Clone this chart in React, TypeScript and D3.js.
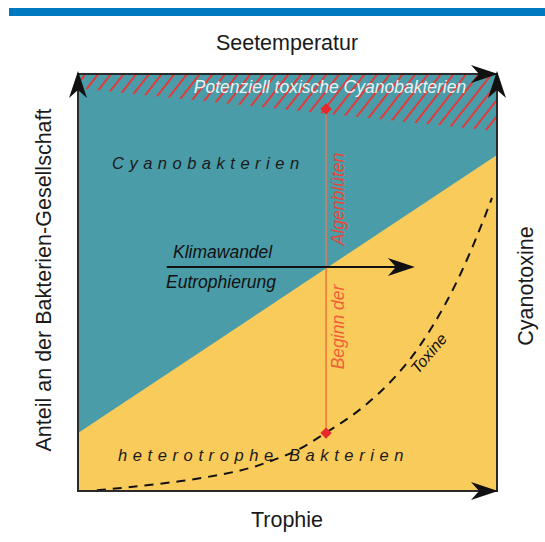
import * as d3 from 'd3';

// share of cyanobacteria boundary (left, right), in 0..1 of y
const splitShare = [0.139, 0.806];
// lower edge of the "potentially toxic" hatched band
const toxicEdge = [0.966, 0.863];
// toxin curve [trophie, level]
const toxinCurve: [number, number][] = [
  [0.045, 0.002], [0.081, 0.005], [0.248, 0.022], [0.403, 0.05], [0.465, 0.074],
  [0.53, 0.098], [0.589, 0.139], [0.649, 0.175], [0.716, 0.23], [0.785, 0.302],
  [0.847, 0.393], [0.905, 0.499], [0.959, 0.626], [0.988, 0.703],
];
const bloomX = 0.592;
const bloomRange = [0.139, 0.916];
const driverArrow = { from: 0.212, to: 0.804, at: 0.537 };

const W = 545, H = 542;
const box = { left: 78, right: 497, top: 74, bottom: 491 };
const teal = '#4a9ca8';
const yellow = '#f9cb5b';
const font = 'Liberation Sans, Arial, sans-serif';

const Head = ({ x, y, angle }: { x: number; y: number; angle: number }) => (
  <path d="M0,0 L-27,-9 L-19,0 L-27,9 Z" fill="#111" transform={`translate(${x},${y}) rotate(${angle})`} />
);

export default function App() {
  const x = d3.scaleLinear().domain([0, 1]).range([box.left, box.right]);
  const y = d3.scaleLinear().domain([0, 1]).range([box.bottom, box.top]);

  const tealPoly = [[0, 1], [1, 1], [1, splitShare[1]], [0, splitShare[0]]]
    .map(([a, b]) => `${x(a)},${y(b)}`).join(' ');
  const hatchPoly = [[0, 1], [1, 1], [1, toxicEdge[1]], [0, toxicEdge[0]]]
    .map(([a, b]) => `${x(a)},${y(b)}`).join(' ');

  const toxLine = d3.line<[number, number]>()
    .x((d) => x(d[0]))
    .y((d) => y(d[1]))
    .curve(d3.curveBasis);

  const bx = x(bloomX);
  const splitAtBloom = splitShare[0] + (splitShare[1] - splitShare[0]) * bloomX;
  const diamond = (cx: number, cy: number) => (
    <rect x={cx - 4} y={cy - 4} width={8} height={8} fill="#e8282a" transform={`rotate(45 ${cx} ${cy})`} />
  );

  return (
    <svg width={W} height={H} style={{ position: 'absolute', left: 0, top: 0, background: '#fff' }} fontFamily={font}>
      <defs>
        <pattern id="hatch" width={10} height={10} patternUnits="userSpaceOnUse" patternTransform="rotate(38)">
          <line x1={3} y1={0} x2={3} y2={10} stroke="#e23a3a" strokeWidth={2} />
        </pattern>
      </defs>
      <rect x={9} y={8} width={536} height={8} fill="#0079c1" />

      <rect x={box.left} y={box.top} width={box.right - box.left} height={box.bottom - box.top} fill={yellow} />
      <polygon points={tealPoly} fill={teal} />
      <polygon points={hatchPoly} fill="url(#hatch)" />

      {/* bloom onset line */}
      <line x1={bx} x2={bx} y1={y(bloomRange[0])} y2={y(splitAtBloom)} stroke="#f27a3a" strokeWidth={1.6} />
      <line x1={bx} x2={bx} y1={y(splitAtBloom)} y2={y(bloomRange[1])} stroke="#cc8068" strokeWidth={1.6} />

      <path d={toxLine(toxinCurve) ?? ''} fill="none" stroke="#111" strokeWidth={2} strokeDasharray="9,7" />

      {diamond(bx, y(bloomRange[0]))}
      {diamond(bx, y(bloomRange[1]))}

      {/* driver arrow */}
      <line x1={x(driverArrow.from)} x2={x(driverArrow.to) - 15} y1={y(driverArrow.at)} y2={y(driverArrow.at)} stroke="#111" strokeWidth={2} />
      <Head x={x(driverArrow.to)} y={y(driverArrow.at)} angle={0} />

      {/* frame */}
      <rect x={box.left} y={box.top} width={box.right - box.left} height={box.bottom - box.top} fill="none" stroke="#2a2a2a" strokeWidth={2} />
      <Head x={box.left} y={box.top - 3} angle={-90} />
      <Head x={box.right} y={box.top - 3} angle={-90} />
      <Head x={box.right + 1} y={box.top} angle={0} />
      <Head x={box.right + 1} y={box.bottom} angle={0} />

      {/* labels */}
      <text x={287} y={50} textAnchor="middle" fontSize={21.5} fill="#1a1a1a">Seetemperatur</text>
      <text x={287} y={527} textAnchor="middle" fontSize={21.5} fill="#1a1a1a">Trophie</text>
      <text transform="translate(51,280) rotate(-90)" textAnchor="middle" fontSize={21.5} fill="#1a1a1a">Anteil an der Bakterien-Gesellschaft</text>
      <text transform="translate(533,286) rotate(-90)" textAnchor="middle" fontSize={21.5} fill="#1a1a1a">Cyanotoxine</text>

      <text x={330} y={93} textAnchor="middle" fontSize={17.5} fontStyle="italic" fill="#fff" fillOpacity={0.9}>Potenziell toxische Cyanobakterien</text>
      <text x={112} y={169} fontSize={16.5} fontStyle="italic" letterSpacing={5.5} fill="#1a1a1a">Cyanobakterien</text>
      <text x={118} y={461} fontSize={16.5} fontStyle="italic" letterSpacing={5.6} fill="#1a1a1a">heterotrophe  Bakterien</text>
      <text x={173} y={258} fontSize={17.5} fontStyle="italic" fill="#111">Klimawandel</text>
      <text x={166} y={288} fontSize={17.5} fontStyle="italic" fill="#111">Eutrophierung</text>

      <text transform="translate(344,199) rotate(-90)" textAnchor="middle" fontSize={17.5} fontStyle="italic" fill="#e8463a">Algenblüten</text>
      <text transform="translate(344,327) rotate(-90)" textAnchor="middle" fontSize={17.5} fontStyle="italic" fill="#f0603a">Beginn der</text>
      <text transform="translate(433,357) rotate(-50)" textAnchor="middle" fontSize={16} fontStyle="italic" fill="#111">Toxine</text>
    </svg>
  );
}
